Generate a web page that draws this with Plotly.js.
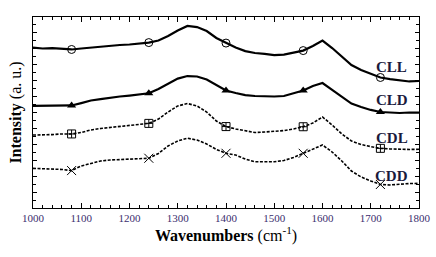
<!DOCTYPE html>
<html><head><meta charset="utf-8">
<script src="https://cdn.plot.ly/plotly-3.0.1.min.js"></script>
<style>html,body{margin:0;padding:0;background:#fff}#chart{width:436px;height:257px}</style>
</head><body><div id="chart"></div>
<script>
const wavenumbers = [1000,1020,1040,1060,1080,1100,1120,1140,1160,1180,1200,1220,1240,1260,1280,1300,1320,1340,1360,1380,1400,1420,1440,1460,1480,1500,1520,1540,1560,1580,1600,1620,1640,1660,1680,1700,1720,1740,1760,1780,1800];
const CLL = [10.02,9.97,10.00,9.94,9.91,9.97,10.03,10.08,10.13,10.19,10.22,10.28,10.34,10.47,10.75,11.09,11.38,11.31,11.06,10.63,10.31,10.03,9.81,9.69,9.63,9.56,9.59,9.72,9.84,10.13,10.47,10.00,9.44,8.94,8.63,8.38,8.16,8.06,7.97,7.91,7.94];
const CLD = [6.38,6.38,6.41,6.38,6.41,6.56,6.72,6.81,6.91,6.97,7.03,7.09,7.17,7.44,7.75,8.09,8.25,8.22,8.03,7.69,7.34,7.19,7.06,7.00,6.97,6.97,7.00,7.16,7.34,7.63,7.81,7.38,6.94,6.53,6.31,6.13,6.00,5.97,5.94,5.97,5.96];
const CDL = [4.56,4.56,4.59,4.63,4.63,4.72,4.88,4.97,5.03,5.13,5.19,5.22,5.29,5.56,6.00,6.38,6.53,6.38,6.00,5.44,5.09,4.94,4.81,4.72,4.75,4.78,4.84,4.94,5.08,5.31,5.69,5.19,4.63,4.19,3.97,3.84,3.73,3.69,3.66,3.66,3.67];
const CDD = [2.48,2.47,2.44,2.41,2.34,2.63,2.78,2.94,3.00,3.03,3.06,3.09,3.11,3.41,3.88,4.19,4.36,4.25,4.00,3.66,3.42,3.31,3.06,2.89,2.88,2.89,2.97,3.16,3.42,3.69,3.94,3.50,2.94,2.31,1.94,1.69,1.47,1.44,1.50,1.53,1.54];
const markerWavenumbers = [1080,1240,1400,1560,1720];
const seriesNames = ['CLL','CLD','CDL','CDD'];
const xTickValues = [1000,1100,1200,1300,1400,1500,1600,1700,1800];

const seriesData = [CLL, CLD, CDL, CDD];
const styles = [
  {line:{color:'#000',width:2.2,dash:'solid'}, marker:{symbol:'circle-open',size:8,color:'#000',line:{width:1}}},
  {line:{color:'#000',width:2.2,dash:'solid'}, marker:{symbol:'triangle-up',size:8,color:'#000',line:{width:0}}},
  {line:{color:'#000',width:1.6,dash:'3px,1.5px'}, marker:{symbol:'square-cross-open',size:8,color:'#000',line:{width:1}}},
  {line:{color:'#000',width:1.6,dash:'3px,1.5px'}, marker:{symbol:'x-thin-open',size:9,color:'#000',line:{width:1}}}
];
const traces = [];
seriesData.forEach((ys, i) => {
  traces.push({x: wavenumbers, y: ys, mode:'lines', line: styles[i].line, showlegend:false, hoverinfo:'skip'});
  traces.push({x: markerWavenumbers, y: markerWavenumbers.map(w => ys[wavenumbers.indexOf(w)]),
    mode:'markers', marker: styles[i].marker, showlegend:false, hoverinfo:'skip'});
});
const labelY = [8.83, 6.75, 4.38, 2.02];
const annotations = seriesNames.map((n, i) => ({
  x: 1744, y: labelY[i], xref:'x', yref:'y', text:'<b>'+n+'</b>', showarrow:false,
  font:{family:'Liberation Serif', size:15, color:'#1a1a3c'}
}));
const layout = {
  width:436, height:257,
  margin:{l:33, r:17, t:17, b:49},
  paper_bgcolor:'#fff', plot_bgcolor:'#fff',
  showlegend:false,
  xaxis:{range:[1000,1800], tickvals:xTickValues, ticktext:xTickValues.map(String),
    ticks:'inside', ticklen:5, tickwidth:1, tickcolor:'#000',
    minor:{dtick:20, tick0:1000, ticks:'inside', ticklen:3, tickcolor:'#000'},
    showline:true, linecolor:'#000', linewidth:1, mirror:'ticks', showgrid:false, zeroline:false,
    tickfont:{family:'Liberation Serif', size:11, color:'#3a2e6e'},
    title:{text:'<b>Wavenumbers</b> (cm<sup>-1</sup>)', font:{family:'Liberation Serif', size:16, color:'#000'}, standoff:4}},
  yaxis:{range:[0,11.94], dtick:1, tick0:0, ticks:'inside', ticklen:4, tickcolor:'#000',
    minor:{dtick:0.5, ticks:'inside', ticklen:3, tickcolor:'#000'},
    showticklabels:false, showline:true, linecolor:'#000', linewidth:1, mirror:'ticks', showgrid:false, zeroline:false,
    title:{text:'<b>Intensity</b> (a. u.)', font:{family:'Liberation Serif', size:16, color:'#000'}, standoff:6}},
  annotations: annotations
};
Plotly.newPlot('chart', traces, layout, {staticPlot:true, displayModeBar:false});
</script></body></html>
